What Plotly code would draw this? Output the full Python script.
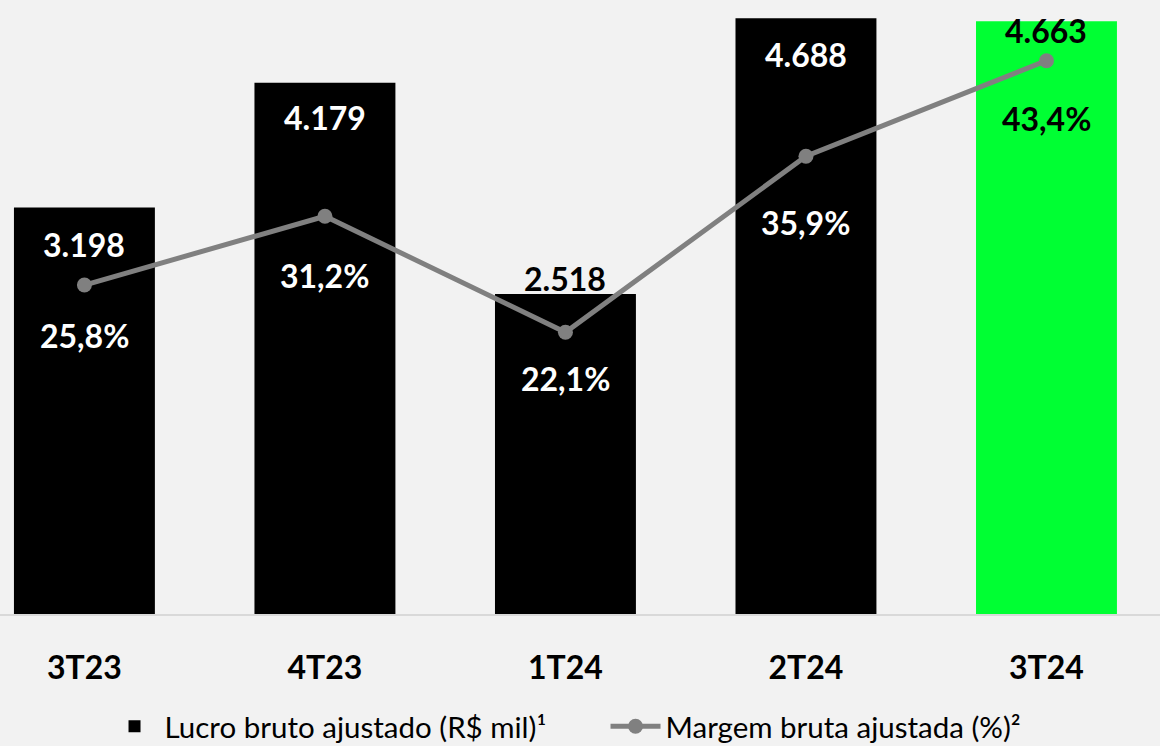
import plotly.graph_objects as go

# Data
quarters = ["3T23", "4T23", "1T24", "2T24", "3T24"]
lucro_bruto = [3198, 4179, 2518, 4688, 4663]  # R$ mil
margem_bruta = [25.8, 31.2, 22.1, 35.9, 43.4]  # %

lucro_labels = ["3.198", "4.179", "2.518", "4.688", "4.663"]
margem_labels = ["25,8%", "31,2%", "22,1%", "35,9%", "43,4%"]

# styling
font_family = "Lato, 'Open Sans', sans-serif"
bar_colors = ["#000000", "#000000", "#000000", "#000000", "#00FF33"]
bar_label_colors = ["white", "white", "black", "white", "black"]
bar_label_shift = [-37, -35, 15, -36, -9]
line_label_colors = ["white", "white", "white", "white", "black"]
line_label_shift = [-50, -59, -46, -66, -58]

fig = go.Figure()

fig.add_trace(go.Bar(
    x=quarters,
    y=lucro_bruto,
    name="Lucro bruto ajustado (R$ mil)¹",
    marker_color=bar_colors,
    marker_line_width=0,
    width=0.586,
))

fig.add_trace(go.Scatter(
    x=quarters,
    y=margem_bruta,
    name="Margem bruta ajustada (%)²",
    mode="lines+markers",
    line=dict(color="#808080", width=5),
    marker=dict(color="#808080", size=15),
    yaxis="y2",
))

# value labels
for q, v, txt, col, dy in zip(quarters, lucro_bruto, lucro_labels, bar_label_colors, bar_label_shift):
    fig.add_annotation(x=q, y=v, text=f"<b>{txt}</b>", showarrow=False, yshift=dy,
                       yanchor="middle", font=dict(size=32, color=col, family=font_family))

for q, v, txt, col, dy in zip(quarters, margem_bruta, margem_labels, line_label_colors, line_label_shift):
    fig.add_annotation(x=q, y=v, yref="y2", text=f"<b>{txt}</b>", showarrow=False, yshift=dy,
                       yanchor="middle", font=dict(size=32, color=col, family=font_family))

fig.update_layout(
    width=1160,
    height=746,
    margin=dict(l=0, r=0, t=0, b=132, autoexpand=False),
    paper_bgcolor="#F2F2F2",
    plot_bgcolor="#F2F2F2",
    font=dict(family=font_family, color="black"),
    showlegend=True,
    legend=dict(
        orientation="h",
        x=0.522,
        xanchor="center",
        yref="container",
        y=0.026,
        yanchor="middle",
        font=dict(size=29.5, color="black"),
        itemwidth=50,
        entrywidth=436,
        traceorder="normal",
    ),
    xaxis=dict(
        range=[-0.351, 4.472],
        showgrid=False,
        showline=True,
        linecolor="#D9D9D9",
        linewidth=2,
        ticks="",
        tickfont=dict(size=32, family=font_family, color="black", weight="bold"),
        ticklabelstandoff=25,
    ),
    yaxis=dict(range=[0, 4831], visible=False, showgrid=False),
    yaxis2=dict(range=[0, 48.16], overlaying="y", visible=False, showgrid=False),
)

# drop the default page margin so the chart fills the window exactly
fig.write_html("out.html", config={"displayModeBar": False},
               post_script="document.body.style.margin='0px';")
